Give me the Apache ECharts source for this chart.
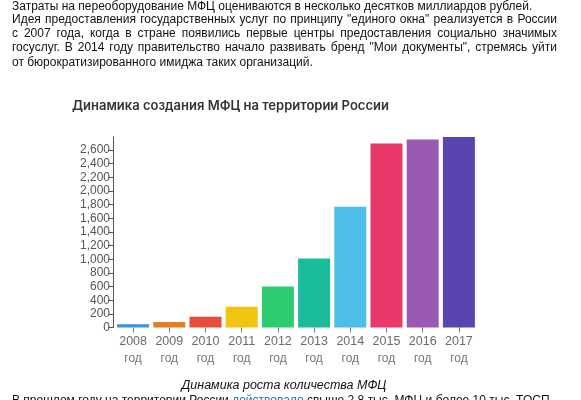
<!DOCTYPE html>
<html>
<head>
<meta charset="utf-8">
<script src="https://cdn.jsdelivr.net/npm/echarts@6/dist/echarts.min.js"></script>
<style>
  html, body { margin: 0; padding: 0; background: #fff; width: 581px; height: 400px; overflow: hidden; }
  #chart { position: absolute; left: 0; top: 0; width: 581px; height: 400px; }
  .txt { position: absolute; left: 0; top: 0; font-family: "Liberation Sans", Arial, sans-serif; font-size: 12px; color: #111; white-space: nowrap; line-height: 14px; }
  .line { position: absolute; left: 12px; }
  .just { width: 545px; text-align: justify; text-align-last: justify; white-space: normal; }
  .cap { position: absolute; left: 0; width: 568px; top: 378px; text-align: center; font-style: italic; font-size: 12.5px; }
  a { color: #2a6fb8; text-decoration: none; }
</style>
</head>
<body>
<div id="chart"></div>
<div class="txt">
  <div class="line" style="top:-1px">Затраты на переоборудование МФЦ оцениваются в несколько десятков миллиардов рублей.</div>
  <div class="line just" style="top:12px">Идея предоставления государственных услуг по принципу "единого окна" реализуется в России</div>
  <div class="line just" style="top:26px">с 2007 года, когда в стране появились первые центры предоставления социально значимых</div>
  <div class="line just" style="top:40px">госуслуг. В 2014 году правительство начало развивать бренд "Мои документы", стремясь уйти</div>
  <div class="line" style="top:55px">от бюрократизированного имиджа таких организаций.</div>
  <div class="cap">Динамика роста количества МФЦ</div>
  <div class="line" style="top:393px">В прошлом году на территории России <a>действовало</a> свыше 2,8 тыс. МФЦ и более 10 тыс. ТОСП</div>
</div>
<script>
// данные
const years = ['2008', '2009', '2010', '2011', '2012', '2013', '2014', '2015', '2016', '2017']
const counts = [48, 80, 158, 305, 600, 1010, 1770, 2695, 2755, 2790]
const barColors = ['#3a92dc', '#e67e22', '#e74c3c', '#f1c40f', '#2ecc71', '#1abc9c', '#4cbee7', '#e8396a', '#9b59b6', '#5a45b0']
const yTicks = [0, 200, 400, 600, 800, 1000, 1200, 1400, 1600, 1800, 2000, 2200, 2400, 2600]

const chart = echarts.init(document.getElementById('chart'), null, { renderer: 'canvas' })

chart.setOption({
  animation: false,
  backgroundColor: 'transparent',
  title: {
    text: 'Динамика создания МФЦ на территории России',
    left: 67,
    top: 95,
    textStyle: { fontFamily: 'Inter', fontSize: 13, fontWeight: 600, color: '#333' },
  },
  grid: { left: 115, right: 104, top: 137, bottom: 72.5 },
  xAxis: {
    type: 'category',
    data: years,
    axisLine: { show: false },
    axisTick: { show: true, alignWithLabel: true, length: 5, lineStyle: { color: '#777' } },
    axisLabel: {
      interval: 0,
      margin: 6,
      formatter: v => `{y|${v}}\n{g|год}`,
      rich: {
        y: { fontFamily: 'Liberation Sans', fontSize: 12.5, color: '#6b6b6b', lineHeight: 17 },
        g: { fontFamily: 'Liberation Sans', fontSize: 12, color: '#777', lineHeight: 17 },
      },
    },
  },
  yAxis: {
    type: 'value',
    min: 0,
    max: 2790,
    interval: 200,
    offset: 2,
    splitLine: { show: false },
    axisLine: { show: true, lineStyle: { color: '#555', width: 1 } },
    axisTick: { show: true, length: 5, customValues: yTicks, lineStyle: { color: '#555' } },
    axisLabel: {
      margin: 3,
      customValues: yTicks,
      fontFamily: 'Liberation Sans',
      fontSize: 12,
      color: '#555',
      formatter: v => v.toLocaleString('en-US'),
    },
  },
  series: [{
    type: 'bar',
    data: counts.map((v, i) => ({ value: v, itemStyle: { color: barColors[i] } })),
    barWidth: 32,
  }],
})
</script>
</body>
</html>
